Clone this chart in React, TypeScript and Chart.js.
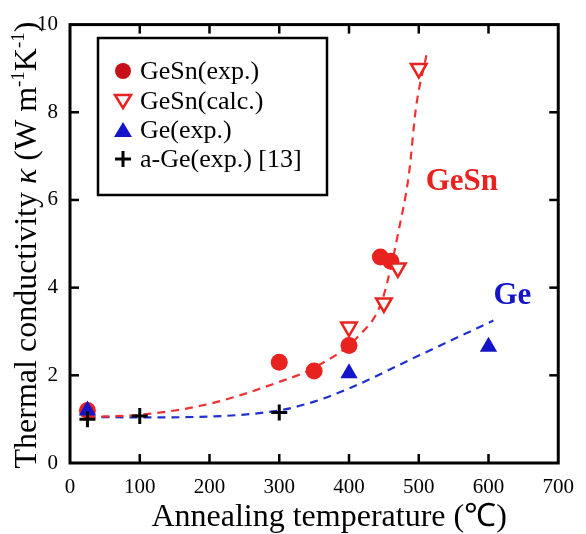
import { useEffect, useRef } from 'react';
import { Chart, registerables } from 'chart.js';
Chart.register(...registerables);

const SERIF = '"Liberation Serif", "Times New Roman", serif';

// Data (annealing temperature in °C, thermal conductivity in W m^-1 K^-1)
const tempGeSnExp = [25, 300, 350, 400, 445, 460];
const kGeSnExp = [1.2, 2.3, 2.1, 2.68, 4.7, 4.6];
const tempGeSnCalc = [400, 450, 470, 500];
const kGeSnCalc = [3.1, 3.65, 4.45, 9.0];
const tempGeExp = [25, 400, 600];
const kGeExp = [1.2, 2.05, 2.65];
const tempAGe = [25, 100, 300];
const kAGe = [1.0, 1.07, 1.15];
const fitGeSnT = [25, 100, 200, 300, 347, 414, 446, 462, 469, 486, 496, 511];
const fitGeSnK = [1.05, 1.1, 1.35, 1.85, 2.15, 2.9, 3.64, 4.6, 5.13, 6.6, 8.1, 9.3];
const fitGeT = [25, 100, 200, 300, 350, 400, 500, 607];
const fitGeK = [1.05, 1.04, 1.06, 1.2, 1.4, 1.7, 2.45, 3.25];
const xTickValues = [0, 100, 200, 300, 400, 500, 600, 700];
const yTickValues = [0, 2, 4, 6, 8, 10];
const legendLabels = ['GeSn(exp.)', 'GeSn(calc.)', 'Ge(exp.)', 'a-Ge(exp.) [13]'];

const RED = '#e8231f';
const DARKRED = '#c8101a';
const BLUE = '#1414c8';

export default function App() {
  const ref = useRef<HTMLCanvasElement>(null);
  useEffect(() => {
    document.body.style.margin = '0';
    const canvas = ref.current!;
    const xy = (xs: number[], ys: number[]) => xs.map((x, i) => ({ x, y: ys[i] }));

    const decor = {
      id: 'decor',
      afterDraw(chart: any) {
        const { ctx, chartArea: a, scales } = chart;
        const sx = scales.x, sy = scales.y;
        ctx.save();
        const line = (x1: number, y1: number, x2: number, y2: number) => {
          ctx.beginPath(); ctx.moveTo(x1, y1); ctx.lineTo(x2, y2); ctx.stroke();
        };
        // inward ticks
        ctx.strokeStyle = '#000';
        ctx.lineWidth = 2.5;
        const L = 9;
        xTickValues.slice(1, -1).forEach((v) => {
          const px = sx.getPixelForValue(v);
          line(px, a.bottom, px, a.bottom - L);
          line(px, a.top, px, a.top + L);
        });
        yTickValues.slice(1, -1).forEach((v) => {
          const py = sy.getPixelForValue(v);
          line(a.left, py, a.left + L, py);
          line(a.right, py, a.right - L, py);
        });
        // frame
        ctx.lineWidth = 3;
        ctx.strokeRect(a.left, a.top, a.right - a.left, a.bottom - a.top);

        // x title
        ctx.fillStyle = '#000';
        ctx.font = `32px ${SERIF}`;
        ctx.textAlign = 'center';
        ctx.textBaseline = 'alphabetic';
        ctx.fillText('Annealing temperature (\u2103)', (a.left + a.right) / 2 + 15, 526);

        // y title with superscripts
        const segs: [string, string, number][] = [
          ['Thermal conductivity ', `32px ${SERIF}`, 0],
          ['\u03ba', `italic 32px ${SERIF}`, 0],
          [' (W m', `32px ${SERIF}`, 0],
          ['-1', `19px ${SERIF}`, -12],
          ['K', `32px ${SERIF}`, 0],
          ['-1', `19px ${SERIF}`, -12],
          [')', `32px ${SERIF}`, 0],
        ];
        let total = 0;
        const widths = segs.map(([t, f]) => { ctx.font = f; const w = ctx.measureText(t).width; total += w; return w; });
        ctx.save();
        ctx.translate(36, 245);
        ctx.rotate(-Math.PI / 2);
        ctx.textAlign = 'left';
        ctx.textBaseline = 'alphabetic';
        let cx = -total / 2;
        segs.forEach(([t, f, dy], i) => { ctx.font = f; ctx.fillText(t, cx, dy); cx += widths[i]; });
        ctx.restore();

        // annotations
        ctx.font = `bold 31px ${SERIF}`;
        ctx.textAlign = 'left';
        ctx.textBaseline = 'middle';
        ctx.fillStyle = RED;
        ctx.fillText('GeSn', sx.getPixelForValue(510), sy.getPixelForValue(6.4));
        ctx.fillStyle = BLUE;
        ctx.fillText('Ge', sx.getPixelForValue(607), sy.getPixelForValue(3.8));

        // legend
        const bx = 98, by = 38, bw = 229, bh = 157;
        ctx.fillStyle = '#fff';
        ctx.fillRect(bx, by, bw, bh);
        ctx.strokeStyle = '#000';
        ctx.lineWidth = 2.5;
        ctx.strokeRect(bx, by, bw, bh);
        const rows = [71, 101, 130, 159];
        const mx = 123;
        ctx.fillStyle = DARKRED;
        ctx.beginPath(); ctx.arc(mx, rows[0], 8, 0, Math.PI * 2); ctx.fill();
        ctx.strokeStyle = RED; ctx.lineWidth = 2.5; ctx.fillStyle = '#fff';
        ctx.beginPath(); ctx.moveTo(mx - 8, rows[1] - 6); ctx.lineTo(mx + 8, rows[1] - 6); ctx.lineTo(mx, rows[1] + 7); ctx.closePath(); ctx.fill(); ctx.stroke();
        ctx.fillStyle = BLUE;
        ctx.beginPath(); ctx.moveTo(mx - 9, rows[2] + 7); ctx.lineTo(mx + 9, rows[2] + 7); ctx.lineTo(mx, rows[2] - 8); ctx.closePath(); ctx.fill();
        ctx.strokeStyle = '#000'; ctx.lineWidth = 3;
        line(mx - 8, rows[3], mx + 8, rows[3]);
        line(mx, rows[3] - 8, mx, rows[3] + 8);
        ctx.fillStyle = '#000';
        ctx.font = `26px ${SERIF}`;
        ctx.textAlign = 'left';
        ctx.textBaseline = 'middle';
        legendLabels.forEach((t, i) => ctx.fillText(t, 140, rows[i] + 1));
        ctx.restore();
      },
    };

    const chart = new Chart(canvas, {
      type: 'scatter',
      data: {
        datasets: [
          { label: 'a-Ge(exp.) [13]', data: xy(tempAGe, kAGe), pointStyle: 'cross', radius: 8, borderWidth: 3, borderColor: '#000', backgroundColor: '#000', order: 0 },
          { label: 'Ge(exp.)', data: xy(tempGeExp, kGeExp), pointStyle: 'triangle', radius: 10, borderWidth: 0, borderColor: BLUE, backgroundColor: BLUE, order: 1 },
          { label: 'GeSn(calc.)', data: xy(tempGeSnCalc, kGeSnCalc), pointStyle: 'triangle', rotation: 180, radius: 9, borderWidth: 2.5, borderColor: RED, backgroundColor: '#fff', order: 2 },
          { label: 'GeSn(exp.)', data: xy(tempGeSnExp, kGeSnExp), pointStyle: 'circle', radius: 8.5, borderWidth: 0, backgroundColor: RED, borderColor: RED, order: 3 },
          { label: 'GeSn fit', data: xy(fitGeSnT, fitGeSnK), showLine: true, pointRadius: 0, borderColor: '#f03232', borderWidth: 2.2, borderDash: [8, 6], cubicInterpolationMode: 'monotone', order: 4 },
          { label: 'Ge fit', data: xy(fitGeT, fitGeK), showLine: true, pointRadius: 0, borderColor: '#2030d0', borderWidth: 2.2, borderDash: [8, 6], cubicInterpolationMode: 'monotone', order: 5 },
        ] as any,
      },
      options: {
        responsive: false,
        animation: false,
        devicePixelRatio: 1,
        layout: { padding: { top: 15, right: 26, left: 0, bottom: 0 } },
        plugins: { legend: { display: false }, tooltip: { enabled: false } },
        scales: {
          x: {
            type: 'linear', min: 0, max: 700,
            afterFit: (s: any) => { s.height = 71; },
            afterBuildTicks: (s: any) => { s.ticks = xTickValues.map((v) => ({ value: v })); },
            grid: { display: false, drawTicks: false },
            border: { display: false },
            ticks: { color: '#000', font: { family: SERIF, size: 21 }, padding: 12, maxRotation: 0, autoSkip: false },
          },
          y: {
            type: 'linear', min: 0, max: 10,
            afterFit: (s: any) => { s.width = 70; },
            afterBuildTicks: (s: any) => { s.ticks = yTickValues.map((v) => ({ value: v })); },
            grid: { display: false, drawTicks: false },
            border: { display: false },
            ticks: { color: '#000', font: { family: SERIF, size: 21 }, padding: 12, autoSkip: false },
          },
        },
      },
      plugins: [decor],
    });
    return () => chart.destroy();
  }, []);
  return <canvas ref={ref} width={586} height={534} style={{ display: 'block' }} />;
}
